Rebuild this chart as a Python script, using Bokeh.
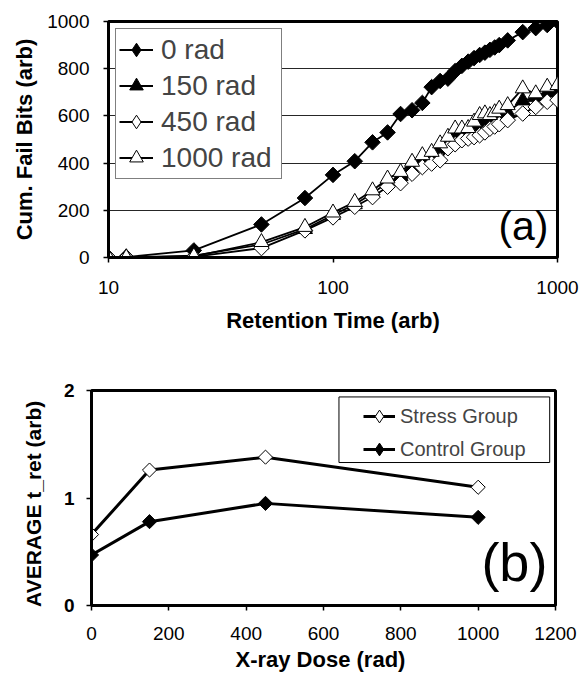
import numpy as np
from bokeh.plotting import figure
from bokeh.models import Range1d, FixedTicker, Legend, LegendItem, Label, BoxAnnotation
from bokeh.embed import file_html
from bokeh.resources import INLINE

# ---- data (a) ----
ret_time = [10, 12, 24, 48, 75, 100, 125, 150, 175, 200, 225, 250, 275, 300, 325,
            350, 375, 400, 425, 450, 475, 500, 525, 550, 600, 700, 800, 900, 1000]
fail_0 = [0, 2, 30, 140, 252, 350, 408, 488, 530, 608, 624, 655, 722, 748, 758,
          790, 812, 830, 845, 858, 868, 880, 890, 900, 920, 955, 972, 985, 1000]
fail_150 = [0, 0, 8, 55, 120, 180, 225, 272, 318, 345, 385, 415, 432, 460, 490,
            522, 525, 530, 548, 565, 575, 580, 590, 600, 615, 665, 680, 700, 700]
fail_450 = [0, 0, 3, 40, 115, 170, 215, 256, 300, 315, 355, 383, 398, 412, 463,
            480, 497, 504, 510, 518, 530, 546, 555, 565, 582, 610, 638, 660, 667]
fail_1000 = [0, 0, 5, 65, 129, 190, 235, 284, 334, 362, 405, 433, 447, 483, 511,
             546, 546, 548, 575, 603, 610, 603, 615, 630, 645, 716, 695, 723, 730]
series_a_labels = ["0 rad", "150 rad", "450 rad", "1000 rad"]
x_ticks_a = [10, 100, 1000]
y_ticks_a = [0, 200, 400, 600, 800, 1000]

# ---- data (b) ----
dose = [0, 150, 450, 1000]
stress = [0.66, 1.26, 1.38, 1.10]
control = [0.47, 0.78, 0.95, 0.82]
series_b_labels = ["Stress Group", "Control Group"]
x_ticks_b = [0, 200, 400, 600, 800, 1000, 1200]
y_ticks_b = [0, 1, 2]

FONT = "Liberation Sans"
SQ = np.pi / 4


def style_axes(p):
    for ax in (p.xaxis[0], p.yaxis[0]):
        ax.axis_line_width = 3
        ax.axis_line_color = "black"
        ax.major_tick_line_width = 1.5
        ax.major_tick_line_color = "black"
        ax.major_tick_in = 0
        ax.major_tick_out = 5
        ax.minor_tick_line_color = None
        ax.major_label_text_font = FONT
        ax.major_label_text_font_size = "19px"
        ax.major_label_text_color = "black"
        ax.axis_label_text_font = FONT
        ax.axis_label_text_font_style = "bold"
        ax.axis_label_text_color = "black"
    p.outline_line_color = "black"
    p.outline_line_width = 3
    p.outline_line_alpha = 1
    p.background_fill_color = "white"
    p.border_fill_color = "white"


def legend_marker(p, xs, ys, marker, fill):
    # zero-size copy of the series: invisible in the plot, drawn in the legend
    return p.scatter(xs, ys, marker=marker, size=0,
                     fill_color=fill, line_color="black", line_width=1)


# ================= (a) =================
p1 = figure(width=579, height=339, x_axis_type="log",
            x_range=Range1d(10, 1000), y_range=Range1d(0, 1000),
            output_backend="svg", toolbar_location=None,
            min_border_left=108, min_border_right=22,
            min_border_top=21, min_border_bottom=82)
style_axes(p1)
p1.xaxis.ticker = FixedTicker(ticks=x_ticks_a, minor_ticks=[])
p1.xaxis.major_label_overrides = {t: str(t) for t in x_ticks_a}
p1.yaxis.ticker = FixedTicker(ticks=y_ticks_a, minor_ticks=[])
p1.xaxis.axis_label = "Retention Time (arb)"
p1.yaxis.axis_label = "Cum. Fail Bits (arb)"
p1.xaxis.axis_label_text_font_size = "22px"
p1.yaxis.axis_label_text_font_size = "22px"
p1.xaxis.major_label_standoff = 18
p1.yaxis.major_label_standoff = 14
p1.xaxis.axis_label_standoff = 11
p1.yaxis.axis_label_standoff = 7
p1.xgrid.visible = False
p1.ygrid.grid_line_color = "black"
p1.ygrid.grid_line_width = 1
p1.ygrid.grid_line_alpha = 0.85

specs = [
    (fail_0, "square", SQ, 11, "black", "diamond"),
    (fail_150, "triangle", 0, 15, "black", None),
    (fail_450, "square", SQ, 11, "white", "diamond"),
    (fail_1000, "triangle", 0, 15, "white", None),
]
items = []
for (vals, mk, ang, sz, fill, legmk), lab in zip(specs, series_a_labels):
    lr = p1.line(ret_time, vals, line_color="black", line_width=1.8)
    sr = p1.scatter(ret_time, vals, marker=mk, angle=ang, size=sz,
                    fill_color=fill, line_color="black", line_width=1)
    mr = legend_marker(p1, ret_time, vals, legmk, fill) if legmk else sr
    items.append(LegendItem(label=lab, renderers=[lr, mr]))

leg1 = Legend(items=items, location="top_left")
leg1.label_text_font = FONT
leg1.label_text_font_size = "28px"
leg1.border_line_color = "black"
leg1.border_line_width = 1
leg1.background_fill_alpha = 1
leg1.glyph_width = 34
leg1.glyph_height = 35
leg1.label_height = 35
leg1.label_width = 117
leg1.label_standoff = 8
leg1.spacing = 1
leg1.padding = 3
leg1.margin = 7
p1.add_layout(leg1)

p1.add_layout(Label(x=912, y=36, text="(a)", text_align="right",
                    text_baseline="bottom", text_font=FONT,
                    text_font_size="41px", text_color="black"))

# ================= (b) =================
p2 = figure(width=579, height=335,
            x_range=Range1d(0, 1200), y_range=Range1d(0, 2),
            output_backend="svg", toolbar_location=None,
            min_border_left=91, min_border_right=24,
            min_border_top=51, min_border_bottom=68)
style_axes(p2)
p2.xaxis.ticker = FixedTicker(ticks=x_ticks_b, minor_ticks=[])
p2.yaxis.ticker = FixedTicker(ticks=y_ticks_b, minor_ticks=[])
p2.yaxis.major_label_text_font_style = "bold"
p2.xaxis.axis_label = "X-ray Dose  (rad)"
p2.yaxis.axis_label = "AVERAGE  t_ret  (arb)"
p2.xaxis.axis_label_text_font_size = "22px"
p2.yaxis.axis_label_text_font_size = "21px"
p2.xaxis.major_label_standoff = 16
p2.yaxis.major_label_standoff = 12
p2.xaxis.axis_label_standoff = 4
p2.yaxis.axis_label_standoff = 16
p2.xgrid.visible = False
p2.ygrid.visible = False

p2.add_layout(BoxAnnotation(left=640, right=1185, top=1.94, bottom=1.33,
                            fill_color="white", fill_alpha=1,
                            line_color="black", line_width=1, line_alpha=1,
                            level="underlay"))

items_b = []
for vals, fill, lab in [(stress, "white", series_b_labels[0]),
                        (control, "black", series_b_labels[1])]:
    lr = p2.line(dose, vals, line_color="black", line_width=3)
    p2.scatter(dose, vals, marker="square", angle=SQ, size=10,
               fill_color=fill, line_color="black", line_width=1)
    mr = legend_marker(p2, dose, vals, "diamond", fill)
    items_b.append(LegendItem(label=lab, renderers=[lr, mr]))

leg2 = Legend(items=items_b, location=(272, 140))
leg2.label_text_font = FONT
leg2.label_text_font_size = "20px"
leg2.border_line_color = None
leg2.background_fill_alpha = 0
leg2.glyph_width = 32
leg2.glyph_height = 32
leg2.label_height = 32
leg2.label_standoff = 5
leg2.spacing = 1
leg2.padding = 0
leg2.margin = 0
p2.add_layout(leg2)

p2.add_layout(Label(x=1179, y=0.13, text="(b)", text_align="right",
                    text_baseline="bottom", text_font=FONT,
                    text_font_size="54px", text_color="black"))

open("out.html", "w").write(file_html([p1, p2], INLINE))
